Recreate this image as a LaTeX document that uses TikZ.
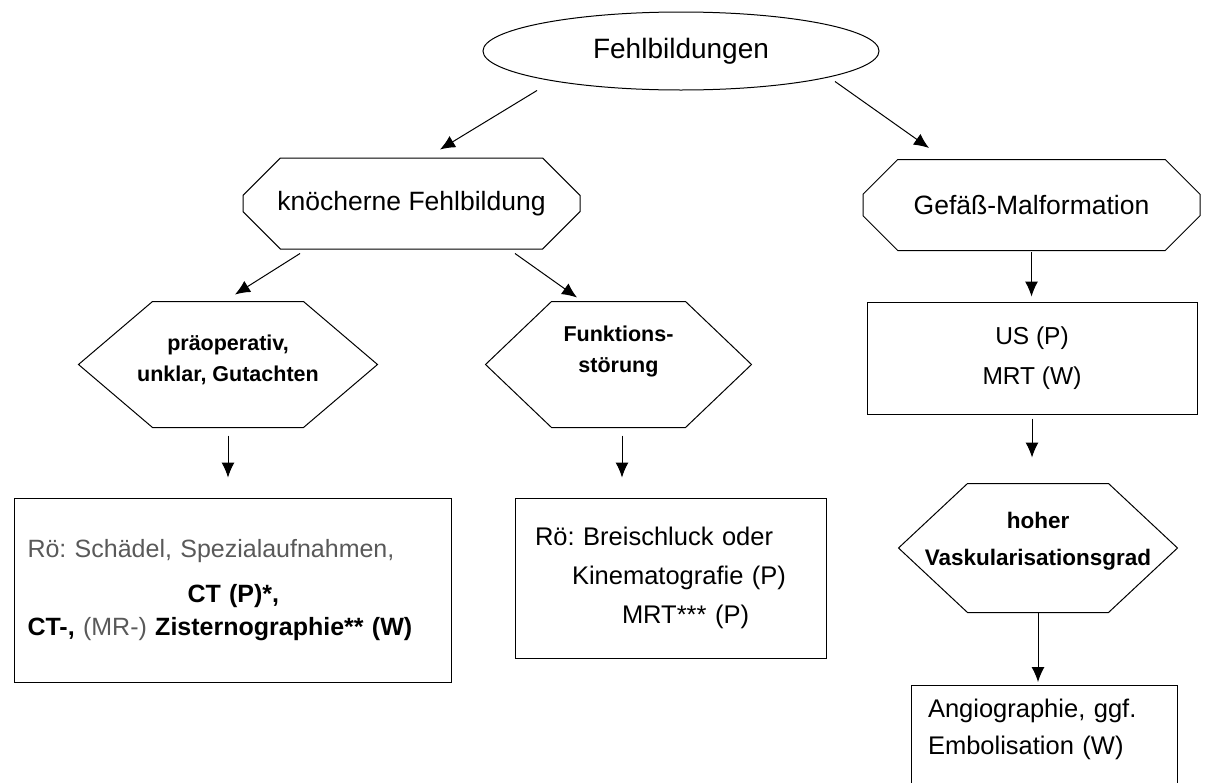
\documentclass[tikz,border=0pt]{standalone}
\usepackage{fontspec}
\setmainfont{Liberation Sans}
\usetikzlibrary{shapes.geometric,shapes.misc,arrows.meta,calc}
\definecolor{txtgray}{gray}{0.35}
\frenchspacing
\begin{document}
\begin{tikzpicture}[
                    x=1pt, y=-1pt,
                    >={Latex[length=15pt,width=13pt]},
                    line width=1pt,
                    octbox/.style={draw, chamfered rectangle, chamfered rectangle xsep=27pt, chamfered rectangle ysep=25pt,
                                   minimum width=337pt, minimum height=91pt, inner sep=0pt, font=\fontsize{26.5}{30}\selectfont},
                    hexbox/.style={rectangle, inner sep=0pt, align=center,
                                   minimum height=125pt, font=\fontsize{21.5}{31}\selectfont\bfseries},
                    plainbox/.style={draw, rectangle, inner sep=0pt, font=\fontsize{25.5}{39}\selectfont}
                    ]

                    \clip (0,0) rectangle (1207,782);

                    \node [draw, ellipse, minimum width=396pt, minimum height=78pt, inner sep=0pt,
                           font=\fontsize{28}{30}\selectfont] (fehl) at (681,51) {Fehlbildungen};

                    \node [octbox] (knoch) at (411.5,203.5) {knöcherne Fehlbildung};
                    \node [octbox] (gefaess) at (1031.5,205) {Gefäß-Malformation};

                    \node [hexbox, minimum width=298pt] (praeop) at (228,364.5)
                          {präoperativ,\\unklar, Gutachten\\[-19pt]~};
                    \node [hexbox, minimum width=265pt] (funkt) at (618.5,364.5)
                          {Funktions-\\störung\\~};

                    \node [plainbox, minimum width=330pt, minimum height=112pt, align=center,
                           font=\fontsize{24.5}{40}\selectfont] (us) at (1032,358) {US (P)\\MRT (W)};
                    \node [hexbox, minimum width=278pt, minimum height=128pt,
                           font=\fontsize{22.5}{37}\selectfont\bfseries] (hoher) at (1038,548) {hoher\\Vaskularisationsgrad\\[-19pt]~};

                    % hexagon outlines
                    \draw ([xshift=74pt]praeop.north west) -- ([xshift=-74pt]praeop.north east) -- (praeop.east)
                          -- ([xshift=-74pt]praeop.south east) -- ([xshift=74pt]praeop.south west) -- (praeop.west) -- cycle;
                    \draw ([xshift=66pt]funkt.north west) -- ([xshift=-66pt]funkt.north east) -- (funkt.east)
                          -- ([xshift=-66pt]funkt.south east) -- ([xshift=66pt]funkt.south west) -- (funkt.west) -- cycle;
                    \draw ([xshift=69pt]hoher.north west) -- ([xshift=-69pt]hoher.north east) -- (hoher.east)
                          -- ([xshift=-69pt]hoher.south east) -- ([xshift=69pt]hoher.south west) -- (hoher.west) -- cycle;

                    \node [plainbox, minimum width=437pt, minimum height=184pt, text width=410pt, align=left,
                           font=\fontsize{25}{33}\selectfont] (roeknoch) at (232.5,590)
                          {{\color{txtgray}Rö: Schädel, Spezialaufnahmen,}\\[12pt]
                           \hspace*{160pt}\textbf{CT (P)*,}\\
                           \textbf{CT-,} {\color{txtgray}(MR-)} \textbf{Zisternographie** (W)}};
                    \node [plainbox, minimum width=311pt, minimum height=160pt, text width=271pt, align=left] (roefunkt) at (670.5,578)
                          {Rö: Breischluck oder\\
                           \hspace*{37pt}Kinematografie (P)\\
                           \hspace*{87pt}MRT*** (P)};
                    \node [plainbox, anchor=north, minimum width=266pt, inner ysep=14pt, text width=232pt, align=left,
                           font=\fontsize{25.5}{37}\selectfont] (angio) at (1044,685)
                          {Angiographie, ggf.\\Embolisation (W)\\[40pt]~};

                    \draw[->] ([xshift=-144pt]fehl.south) -- ([xshift=28.5pt,yshift=8pt]knoch.north);
                    \draw[->] ([xshift=154pt,yshift=9pt]fehl.south) -- ([xshift=-102.5pt,yshift=11pt]gefaess.north);
                    \draw[->] ([xshift=-111.5pt,yshift=-4pt]knoch.south) -- ([xshift=7pt,yshift=7pt]praeop.north);
                    \draw[->] ([xshift=103.5pt,yshift=-4pt]knoch.south) -- ([xshift=-41.5pt,yshift=4pt]funkt.north);
                    \draw[->] ([yshift=-8pt]praeop.south) -- ($(praeop.south |- roeknoch.north)+(0,-20)$);
                    \draw[->] ([xshift=3.5pt,yshift=-8pt]funkt.south) -- ($(funkt.south |- roefunkt.north)+(3.5,-20)$);
                    \draw[->] ([yshift=-1pt]gefaess.south) -- ($(gefaess.south |- us.north)+(0,-5)$);
                    \draw[->] ([yshift=-4pt]us.south) -- ($(us.south |- hoher.north)+(0,-26)$);
                    \draw[->] (hoher.south) -- ($(hoher.south |- angio.north)+(0,-3)$);

                \end{tikzpicture}
\end{document}
